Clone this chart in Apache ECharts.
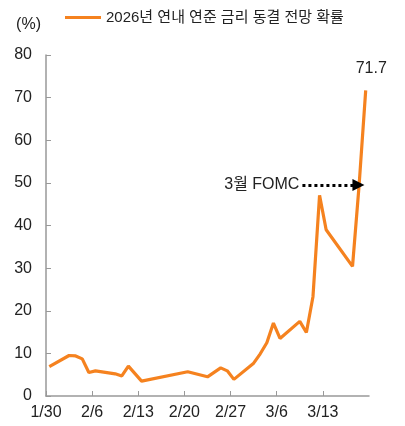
<!DOCTYPE html>
<html lang="ko">
<head>
<meta charset="UTF-8">
<title>연내 연준 금리 동결 전망 확률</title>
<script src="https://cdn.jsdelivr.net/npm/echarts@6/dist/echarts.min.js"></script>
<style>
    html,body{margin:0;padding:0;background:#fff;}
    #main{width:405px;height:426px;}
</style>
</head>
<body>
<div id="main"></div>
<script>
    // 데이터 (1/30 ~ 3/19)
    var dates = ['1/30','2/2','2/3','2/4','2/5','2/6','2/9','2/10','2/11','2/13','2/20','2/23','2/25','2/26','2/27',
                 '3/2','3/3','3/4','3/5','3/6','3/9','3/10','3/11','3/12','3/13','3/17','3/18','3/19'];
    var values = [6.9,9.5,9.4,8.7,5.5,5.9,5.2,4.7,7.0,3.5,5.7,4.5,6.6,5.9,3.9,
                  7.7,9.9,12.5,17.1,13.5,17.5,14.9,23.3,47.1,39.0,30.4,49.5,71.7];
    var tickLabels = ['1/30','2/6','2/13','2/20','2/27','3/6','3/13','3/20'];
    var seriesName = '2026년 연내 연준 금리 동결 전망 확률';
    var fomcDate = '3/18';

    var FONT = '"Liberation Sans", "Noto Sans CJK KR", sans-serif';
    var ORANGE = '#F5821F';

    // 1/30 기준 경과일
    function dayIndex(s){
        var p = s.split('/');
        var d = new Date(2026, +p[0]-1, +p[1]);
        return Math.round((d - new Date(2026,0,30)) / 86400000);
    }
    var lineData = [];
    for(var i=0;i<dates.length;i++){
        lineData.push([dayIndex(dates[i]) + 0.5, values[i]]);
    }
    var fomcX = dayIndex(fomcDate) + 0.5;
    var fomcY = values[dates.indexOf(fomcDate)];

    var chart = echarts.init(document.getElementById('main'));
    chart.setOption({
        animation:false,
        textStyle:{fontFamily:FONT},
        legend:{
            left:60, top:5,
            icon:'rect', itemWidth:36, itemHeight:3, itemGap:6,
            textStyle:{fontSize:15, color:'#222', fontFamily:FONT},
            data:[seriesName]
        },
        grid:{left:46, right:36, top:55, bottom:30, containLabel:false},
        xAxis:{
            type:'value', min:0, max:49, interval:7,
            axisLine:{lineStyle:{color:'#999', width:1.5}},
            axisTick:{inside:true, length:5, lineStyle:{color:'#999'}},
            axisLabel:{
                fontSize:16, color:'#222', margin:9, showMaxLabel:false,
                formatter:function(v){ return tickLabels[Math.round(v/7)]; }
            },
            splitLine:{show:false}
        },
        yAxis:{
            type:'value', min:0, max:80, interval:10,
            name:'(%)', nameLocation:'end', nameGap:22,
            nameTextStyle:{fontSize:16, color:'#222', align:'right', padding:[0,5,0,0]},
            axisLine:{show:true, lineStyle:{color:'#999', width:1.5}},
            axisTick:{show:true, inside:true, length:5, lineStyle:{color:'#999'}},
            axisLabel:{fontSize:16, color:'#222', margin:14},
            splitLine:{show:false}
        },
        series:[{
            name:seriesName,
            type:'line',
            data:lineData,
            showSymbol:false,
            symbol:'none',
            lineStyle:{color:ORANGE, width:3.2},
            itemStyle:{color:ORANGE},
            endLabel:{
                show:true, formatter:function(p){ return p.value[1].toFixed(1); },
                fontSize:16, color:'#222', offset:[-18,-22]
            },
            markLine:{
                silent:true,
                symbol:['none','triangle'],
                symbolSize:[12,12],
                symbolRotate:-90,
                lineStyle:{color:'#000', type:'dotted', width:3},
                label:{
                    show:true, position:'start', formatter:'3월 FOMC',
                    fontSize:16, color:'#222', distance:3
                },
                data:[[{coord:[fomcX-8.6, fomcY]},{coord:[fomcX-0.1, fomcY]}]]
            }
        }]
    });
</script>
</body>
</html>
